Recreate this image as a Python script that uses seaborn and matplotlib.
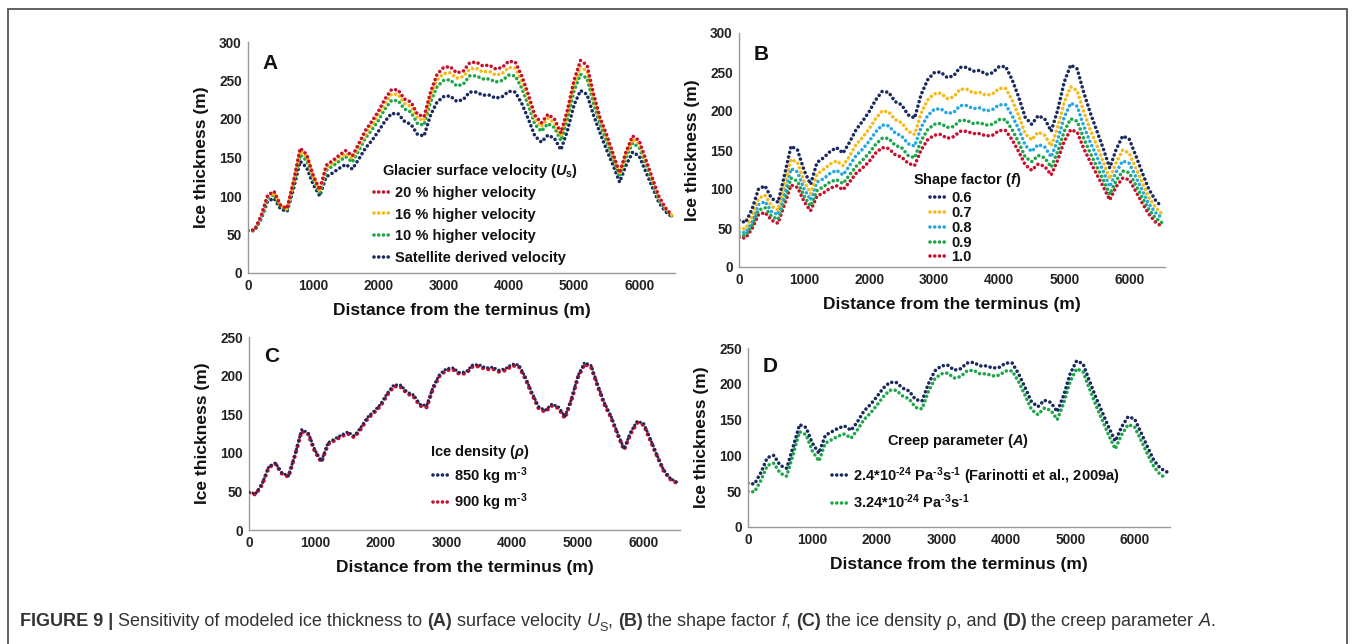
import numpy as np
import matplotlib
matplotlib.use("Agg")
import matplotlib.pyplot as plt
import seaborn as sns
from matplotlib.lines import Line2D
from matplotlib.patches import Rectangle
from matplotlib.ticker import MultipleLocator
from matplotlib import font_manager

# ---------------------------------------------------------------- data
distance_m = np.arange(0, 6501, 100)

# (A) surface velocity
thk_sat = [55, 55, 70, 93, 97, 83, 80, 110, 145, 137, 115, 100, 125, 130, 136, 141, 135, 148, 162, 172,
           184, 197, 207, 207, 197, 193, 180, 178, 205, 222, 229, 230, 223, 225, 235, 235, 231, 231, 227, 229,
           236, 235, 220, 200, 178, 170, 179, 175, 160, 185, 218, 237, 232, 205, 182, 160, 140, 118, 140, 157,
           152, 132, 112, 92, 80, 73]
thk_v10 = [55, 55, 72, 97, 102, 86, 82, 115, 153, 146, 122, 104, 133, 139, 145, 151, 144, 159, 175, 186,
           198, 213, 224, 224, 213, 209, 194, 192, 222, 242, 250, 251, 243, 245, 256, 256, 252, 252, 248, 250,
           257, 256, 240, 218, 193, 184, 194, 189, 172, 200, 236, 258, 253, 220, 193, 171, 148, 125, 150, 169,
           163, 141, 119, 96, 83, 74]
thk_v16 = [55, 56, 73, 99, 104, 87, 83, 118, 158, 151, 125, 106, 137, 143, 150, 155, 149, 164, 180, 192,
           205, 220, 232, 232, 220, 216, 201, 198, 229, 251, 259, 260, 253, 255, 265, 266, 261, 262, 257, 259,
           267, 266, 249, 226, 200, 190, 201, 195, 178, 207, 244, 268, 262, 227, 198, 176, 152, 128, 154, 174,
           168, 145, 122, 98, 84, 75]
thk_v20 = [55, 56, 74, 101, 106, 88, 84, 120, 162, 154, 127, 108, 140, 146, 153, 159, 152, 168, 185, 197,
           210, 226, 238, 238, 226, 222, 206, 203, 235, 258, 267, 268, 260, 262, 273, 274, 269, 270, 265, 267,
           275, 274, 256, 232, 205, 195, 206, 200, 182, 212, 250, 276, 270, 233, 202, 180, 155, 130, 158, 178,
           172, 148, 124, 100, 85, 75]

# (B) shape factor
thk_f06 = [60, 57, 74, 100, 104, 88, 83, 118, 155, 150, 124, 106, 134, 140, 148, 153, 146, 160, 176, 187,
           199, 214, 225, 224, 212, 208, 195, 191, 221, 240, 249, 250, 243, 245, 256, 256, 251, 252, 247, 249,
           257, 257, 240, 218, 192, 183, 194, 190, 174, 201, 237, 259, 254, 224, 198, 175, 152, 127, 151, 168,
           164, 143, 121, 100, 86, 77]
thk_f07 = [50, 49, 65, 88, 92, 78, 73, 105, 138, 134, 110, 94, 119, 125, 132, 136, 130, 142, 157, 166,
           177, 190, 200, 199, 189, 185, 174, 170, 197, 214, 222, 223, 216, 218, 228, 228, 223, 224, 220, 222,
           229, 229, 214, 194, 171, 163, 173, 169, 155, 179, 211, 231, 226, 199, 176, 156, 135, 113, 134, 150,
           146, 127, 108, 89, 77, 68]
thk_f08 = [45, 44, 58, 80, 84, 71, 67, 95, 126, 122, 100, 86, 109, 113, 120, 124, 118, 130, 143, 151,
           161, 173, 182, 181, 172, 168, 158, 155, 179, 194, 202, 203, 197, 198, 207, 207, 203, 204, 200, 202,
           208, 208, 194, 177, 156, 148, 157, 154, 141, 163, 192, 210, 206, 181, 160, 142, 123, 103, 122, 136,
           133, 116, 98, 81, 70, 63]
thk_f09 = [41, 40, 53, 73, 76, 65, 61, 87, 114, 110, 91, 78, 98, 103, 109, 112, 107, 118, 129, 137,
           146, 157, 165, 165, 156, 153, 143, 140, 162, 176, 183, 184, 179, 180, 188, 188, 184, 185, 182, 183,
           189, 189, 176, 160, 141, 135, 143, 140, 128, 148, 174, 190, 187, 165, 146, 129, 112, 93, 111, 123,
           121, 105, 89, 74, 63, 57]
thk_f10 = [38, 37, 49, 67, 70, 60, 56, 80, 105, 102, 84, 72, 91, 95, 101, 104, 99, 109, 120, 127,
           135, 146, 153, 152, 144, 141, 133, 130, 150, 163, 169, 170, 165, 167, 174, 174, 171, 171, 168, 169,
           175, 175, 163, 148, 131, 124, 132, 129, 118, 137, 161, 176, 173, 152, 135, 119, 103, 86, 103, 114,
           112, 97, 82, 68, 58, 52]

# (C) ice density
thk_r850 = [49, 47, 60, 82, 87, 74, 70, 98, 130, 126, 104, 89, 113, 118, 123, 127, 122, 133, 146, 154,
            163, 177, 188, 188, 179, 175, 163, 161, 186, 202, 209, 210, 204, 205, 214, 214, 210, 211, 207, 209,
            215, 214, 198, 178, 160, 155, 163, 160, 147, 170, 200, 217, 213, 188, 165, 148, 126, 105, 127, 141,
            138, 118, 97, 78, 67, 62]
thk_r900 = [48, 46, 59, 81, 86, 73, 69, 97, 128, 124, 102, 88, 111, 116, 121, 125, 120, 131, 144, 152,
            161, 175, 186, 186, 177, 173, 161, 159, 184, 200, 207, 208, 202, 203, 212, 212, 208, 209, 205, 207,
            213, 212, 196, 176, 158, 153, 161, 158, 145, 168, 198, 215, 211, 186, 163, 146, 124, 104, 125, 139,
            136, 116, 96, 77, 66, 61]

# (D) creep parameter
thk_a240 = [61, 60, 76, 97, 100, 86, 82, 112, 143, 139, 117, 103, 128, 133, 138, 141, 135, 147, 162, 171,
            182, 194, 202, 202, 194, 190, 178, 176, 200, 218, 225, 226, 219, 221, 229, 230, 225, 225, 222, 223,
            229, 229, 214, 195, 175, 168, 177, 174, 161, 184, 214, 232, 228, 204, 181, 160, 139, 120, 140, 154,
            151, 132, 112, 93, 82, 77]
thk_a324 = [50, 49, 65, 86, 89, 75, 71, 101, 133, 129, 106, 92, 117, 122, 127, 130, 124, 136, 150, 159,
            170, 182, 191, 191, 183, 179, 167, 165, 189, 207, 214, 215, 208, 210, 218, 219, 214, 214, 211, 212,
            218, 218, 203, 184, 164, 157, 166, 163, 150, 173, 203, 221, 217, 193, 170, 149, 128, 109, 129, 143,
            140, 121, 102, 84, 73, 68]

labels_a = ["20 % higher velocity", "16 % higher velocity", "10 % higher velocity",
            "Satellite derived velocity"]
labels_b = ["0.6", "0.7", "0.8", "0.9", "1.0"]
labels_c = [r"850 kg m$^{\text{-}3}$", r"900 kg m$^{\text{-}3}$"]
labels_d = [r"2.4*10$^{\text{-}24}$ Pa$^{\text{-}3}$s$^{\text{-}1}$ (Farinotti et al., 2009a)",
            r"3.24*10$^{\text{-}24}$ Pa$^{\text{-}3}$s$^{\text{-}1}$"]

# ---------------------------------------------------------------- style
NAVY, RED, GOLD, GREEN, CYAN = "#1b2a5e", "#c8102e", "#f6b917", "#1fa64a", "#27a7e0"

sns.set_theme(style="white")
plt.rcParams["font.family"] = ["Liberation Sans", "DejaVu Sans"]
plt.rcParams["font.weight"] = "bold"
plt.rcParams["mathtext.fontset"] = "custom"
plt.rcParams["mathtext.rm"] = "Liberation Sans:bold"
plt.rcParams["mathtext.it"] = "Liberation Sans:italic:bold"
plt.rcParams["mathtext.bf"] = "Liberation Sans:bold"

W, H = 1355, 644
fig = plt.figure(figsize=(W / 100, H / 100), dpi=100)
fig.patch.set_facecolor("white")

DOT = (0, (0.01, 1.3))
LW = 2.6


def px_axes(left, top, right, bottom):
    return fig.add_axes([left / W, 1 - bottom / H, (right - left) / W, (bottom - top) / H])


def draw(ax, values, color, lw=LW, z=2):
    sns.lineplot(x=distance_m, y=values, ax=ax, color=color, linewidth=lw,
                 linestyle=DOT, dash_capstyle="round", zorder=z)


def style(ax, ymax, letter):
    ax.set_xlim(0, 6550)
    ax.set_ylim(0, ymax)
    ax.xaxis.set_major_locator(MultipleLocator(1000))
    ax.xaxis.set_minor_locator(MultipleLocator(200))
    ax.yaxis.set_major_locator(MultipleLocator(50))
    ax.yaxis.set_minor_locator(MultipleLocator(10))
    for s in ("top", "right"):
        ax.spines[s].set_visible(False)
    for s in ("left", "bottom"):
        ax.spines[s].set_color("#9a9a9a")
        ax.spines[s].set_linewidth(1.0)
    ax.tick_params(which="both", direction="inout", colors="#9a9a9a",
                   labelcolor="#222222", labelsize=9.8, pad=2)
    ax.tick_params(which="major", length=5, width=1)
    ax.tick_params(which="minor", length=3, width=0.8)
    for t in ax.get_xticklabels() + ax.get_yticklabels():
        t.set_fontweight("bold")
    ax.set_ylabel("Ice thickness (m)", fontsize=12.5, fontweight="bold", color="#111111", labelpad=7)
    ax.set_xlabel("Distance from the terminus (m)", fontsize=12.5, fontweight="bold",
                  color="#111111", labelpad=7)
    ax.text(0.035, 0.95, letter, transform=ax.transAxes, fontsize=15, fontweight="bold",
            color="#111111", ha="left", va="top")
    ax.set_facecolor("none")


def legend(ax, title, title_xy, colors, labels, hxy, spacing):
    handles = [Line2D([], [], color=c, lw=LW, linestyle=DOT, dash_capstyle="round") for c in colors]
    leg = ax.legend(handles, labels, loc="upper left",
                    bbox_to_anchor=(hxy[0] / W, 1 - hxy[1] / H), bbox_transform=fig.transFigure,
                    frameon=False, borderpad=0, borderaxespad=0, handlelength=1.0,
                    handletextpad=0.45, labelspacing=spacing,
                    prop={"weight": "bold", "size": 10.5})
    for t in leg.get_texts():
        t.set_color("#111111")
    fig.text(title_xy[0] / W, 1 - title_xy[1] / H, title, ha="left", va="center",
             fontsize=10.5, fontweight="bold", color="#111111")


# ---------------------------------------------------------------- panel A
axA = px_axes(248, 42, 675, 273)
draw(axA, thk_sat, NAVY)
draw(axA, thk_v10, GREEN)
draw(axA, thk_v16, GOLD)
draw(axA, thk_v20, RED)
style(axA, 300, "A")
legend(axA, r"Glacier surface velocity ($\mathit{U}_{\mathrm{s}}$)", (382, 171),
       [RED, GOLD, GREEN, NAVY], labels_a, (374, 186), 0.52)

# ---------------------------------------------------------------- panel B
axB = px_axes(739, 33, 1165, 267)
draw(axB, thk_f10, RED)
draw(axB, thk_f09, GREEN)
draw(axB, thk_f08, CYAN)
draw(axB, thk_f07, GOLD)
draw(axB, thk_f06, NAVY)
style(axB, 300, "B")
legend(axB, r"Shape factor ($\mathit{f}$)", (913, 180),
       [NAVY, GOLD, CYAN, GREEN, RED], labels_b, (930, 191), 0.06)

# ---------------------------------------------------------------- panel C
axC = px_axes(249, 337, 680, 530)
draw(axC, thk_r900, RED, lw=3.1, z=2)
draw(axC, thk_r850, NAVY, lw=2.2, z=3)
style(axC, 250, "C")
legend(axC, r"Ice density ($\rho$)", (430, 452),
       [NAVY, RED], labels_c, (433, 465), 0.33)

# ---------------------------------------------------------------- panel D
axD = px_axes(748, 348, 1170, 527)
draw(axD, thk_a324, GREEN)
draw(axD, thk_a240, NAVY)
style(axD, 250, "D")
legend(axD, r"Creep parameter ($\mathit{A}$)", (887, 441),
       [NAVY, GREEN], labels_d, (832, 465), 0.42)

# ---------------------------------------------------------------- caption
names = {f.name for f in font_manager.fontManager.ttflist}
cap_font = "Liberation Sans Narrow" if "Liberation Sans Narrow" in names else "Liberation Sans"
CAP_COL = "#333333"

runs = [
    ("FIGURE 9 |", dict(fontweight="bold")),
    (" Sensitivity of modeled ice thickness to ", dict(fontweight="normal")),
    ("(A)", dict(fontweight="bold")),
    (" surface velocity ", dict(fontweight="normal")),
    ("U", dict(fontweight="normal", fontstyle="italic")),
    ("S", dict(fontweight="normal", sub=True)),
    (", ", dict(fontweight="normal")),
    ("(B)", dict(fontweight="bold")),
    (" the shape factor ", dict(fontweight="normal")),
    ("f", dict(fontweight="normal", fontstyle="italic")),
    (", ", dict(fontweight="normal")),
    ("(C)", dict(fontweight="bold")),
    (" the ice density \u03c1, and ", dict(fontweight="normal")),
    ("(D)", dict(fontweight="bold")),
    (" the creep parameter ", dict(fontweight="normal")),
    ("A", dict(fontweight="normal", fontstyle="italic")),
    (".", dict(fontweight="normal")),
]


def draw_caption(size):
    renderer = fig.canvas.get_renderer()
    x = 20
    y = 622
    arts = []
    for text, kw in runs:
        kw = dict(kw)
        sub = kw.pop("sub", False)
        fs = size * 0.7 if sub else size
        yy = y + (0.35 * size * 100 / 72 if sub else 0)
        t = fig.text(x / W, 1 - yy / H, text, fontsize=fs, color=CAP_COL, family=cap_font,
                     ha="left", va="center", **kw)
        bb = t.get_window_extent(renderer)
        x = bb.x1
        arts.append(t)
    return arts, x


arts, end = draw_caption(11)
scale = (1215 - 20) / (end - 20)
for a in arts:
    a.remove()
draw_caption(11 * scale)

# outer frame
fig.add_artist(Rectangle((8 / W, -0.05), (1347 - 8) / W, 1.05 - 9 / H,
                         transform=fig.transFigure, fill=False, edgecolor="#555555", linewidth=1.3))

fig.savefig("out.png", dpi=100, facecolor="white")
